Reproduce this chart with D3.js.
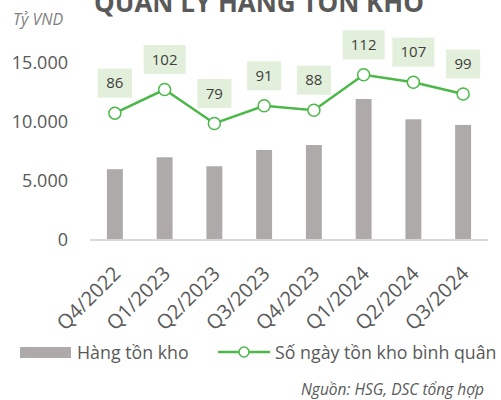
<!DOCTYPE html>
<html>
  <head>
    <meta charset="utf-8">
    <script src="https://d3js.org/d3.v7.min.js"></script>
    <style>
      body { margin: 0; background: #fff; }
      svg text { font-family: "Open Sans", sans-serif; fill: #595959; }
      .bar { fill: #aeaaaa; }
      .days-line { fill: none; stroke: #4cb848; stroke-width: 2.5px; }
      .dot { fill: #fff; stroke: #4cb848; stroke-width: 1.5px; }
      .lbl-box { fill: #e2efda; }
    </style>
  </head>
  <body>
    <svg id="chart" width="501" height="400"></svg>
    <script>
      // quarters on x axis
      const quarters = ["Q4/2022", "Q1/2023", "Q2/2023", "Q3/2023", "Q4/2023", "Q1/2024", "Q2/2024", "Q3/2024"];
      // inventory (tỷ VND)
      const inventory = [6000, 7010, 6250, 7630, 8050, 11950, 10230, 9750];
      // average days of inventory
      const days = [86, 102, 79, 91, 88, 112, 107, 99];
      const yTicks = [0, 5000, 10000, 15000];

      const svg = d3.select("#chart");
      const plotLeft = 90, plotRight = 488, plotTop = 4, plotBottom = 240;

      const x = d3.scaleBand().domain(quarters).range([plotLeft, plotRight]).paddingInner(0.68).paddingOuter(0.34);
      const y = d3.scaleLinear().domain([0, 20000]).range([plotBottom, plotTop]);
      const y2 = d3.scaleLinear().domain([0, 160]).range([plotBottom, plotTop]);

      // title (partly cut at the top, like the original)
      svg.append("text")
        .attr("x", 259).attr("y", 12)
        .attr("text-anchor", "middle")
        .style("font-weight", "bold").style("font-size", "26px")
        .text("QUẢN LÝ HÀNG TỒN KHO");

      svg.append("text")
        .attr("x", 13).attr("y", 25)
        .style("font-style", "italic").style("font-size", "16px").style("fill", "#7f7f7f")
        .text("Tỷ VND");

      // y axis labels only
      const yAxis = svg.append("g")
        .attr("transform", `translate(${plotLeft - 22},0)`)
        .call(d3.axisLeft(y).tickValues(yTicks).tickSize(0).tickPadding(0)
          .tickFormat(d => d3.format(",")(d).replace(/,/g, ".")));
      yAxis.select(".domain").remove();
      yAxis.selectAll("text").style("font-size", "18px").style("fill", "#595959").style("font-family", "Open Sans");

      // bars
      svg.selectAll("rect.bar")
        .data(inventory)
        .join("rect")
          .attr("class", "bar")
          .attr("x", (d, i) => x(quarters[i]))
          .attr("width", x.bandwidth())
          .attr("y", d => y(d))
          .attr("height", d => y(0) - y(d));

      // x axis
      const xAxis = svg.append("g")
        .attr("transform", `translate(0,${plotBottom})`)
        .call(d3.axisBottom(x).tickSize(0).tickPadding(0));
      xAxis.select(".domain").attr("stroke", "#d9d9d9").attr("stroke-width", 2)
        .attr("d", `M${plotLeft},0H${plotRight}`);
      xAxis.selectAll("text")
        .style("font-size", "20px").style("fill", "#595959").style("font-family", "Open Sans")
        .attr("text-anchor", "end")
        .attr("y", 0).attr("dy", "0")
        .attr("transform", "translate(7,35) rotate(-45)");

      // line of days
      const cx = (d, i) => x(quarters[i]) + x.bandwidth() / 2;
      svg.append("path")
        .datum(days)
        .attr("class", "days-line")
        .attr("d", d3.line().x(cx).y(d => y2(d)));

      svg.selectAll("circle.dot")
        .data(days)
        .join("circle")
          .attr("class", "dot")
          .attr("cx", cx)
          .attr("cy", d => y2(d))
          .attr("r", 6);

      // data labels
      const lbl = svg.selectAll("g.lbl")
        .data(days)
        .join("g")
          .attr("class", "lbl")
          .attr("transform", (d, i) => `translate(${cx(d, i)},${y2(d) - 30})`);
      lbl.append("rect")
        .attr("class", "lbl-box")
        .attr("x", d => String(d).length > 2 ? -21 : -17)
        .attr("width", d => String(d).length > 2 ? 42 : 34)
        .attr("y", -14.5).attr("height", 29);
      lbl.append("text")
        .attr("text-anchor", "middle")
        .attr("dy", "0.35em")
        .style("font-size", "15px").style("fill", "#404040")
        .text(d => d);

      // legend
      svg.append("rect").attr("x", 20).attr("y", 347).attr("width", 51).attr("height", 11).attr("fill", "#aeaaaa");
      svg.append("text").attr("x", 77).attr("y", 359).style("font-size", "17.8px").text("Hàng tồn kho");
      svg.append("line").attr("x1", 218).attr("x2", 270).attr("y1", 352).attr("y2", 352)
        .attr("stroke", "#4cb848").attr("stroke-width", 2.5);
      svg.append("circle").attr("class", "dot").attr("cx", 244).attr("cy", 352).attr("r", 5);
      svg.append("text").attr("x", 275).attr("y", 359).style("font-size", "17.8px").text("Số ngày tồn kho bình quân");

      svg.append("text")
        .attr("x", 484).attr("y", 395)
        .attr("text-anchor", "end")
        .style("font-style", "italic").style("font-size", "15.5px").style("fill", "#595959")
        .text("Nguồn: HSG, DSC tổng hợp");
    </script>
  </body>
</html>
